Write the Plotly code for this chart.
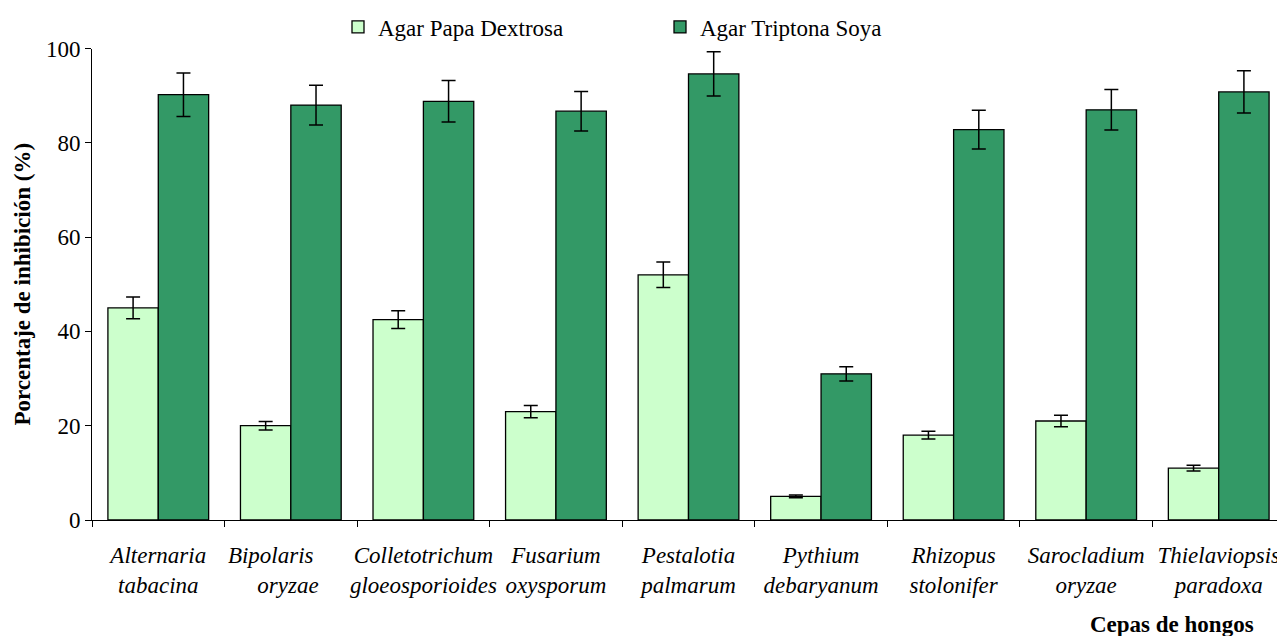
import plotly.graph_objects as go

NB = "\u00a0"
categories = [
    "Alternaria<br>tabacina",
    "Bipolaris" + NB * 7 + "<br>" + NB * 6 + "oryzae" + NB * 7,
    "Colletotrichum<br>gloeosporioides",
    "Fusarium<br>oxysporum",
    "Pestalotia<br>palmarum",
    "Pythium<br>debaryanum",
    "Rhizopus<br>stolonifer",
    "Sarocladium<br>oryzae",
    "Thielaviopsis<br>paradoxa",
]
pda_values = [45.0, 20.0, 42.5, 23.0, 52.0, 5.0, 18.0, 21.0, 11.0]
pda_errors = [2.3, 0.9, 1.9, 1.3, 2.7, 0.3, 0.8, 1.2, 0.6]
tsa_values = [90.2, 88.0, 88.8, 86.7, 94.6, 31.0, 82.8, 87.0, 90.8]
tsa_errors = [4.6, 4.2, 4.4, 4.2, 4.7, 1.5, 4.1, 4.3, 4.5]
y_ticks = [0, 20, 40, 60, 80, 100]

FONT = "Liberation Serif"
FS = 23

# page body has an 8px margin: figure occupies 1277x628 starting at (8, 8)
W, H = 1277, 628

fig = go.Figure()
fig.add_trace(go.Bar(
    name="Agar Papa Dextrosa", x=categories, y=pda_values,
    marker=dict(color="#CCFFCC", line=dict(color="black", width=1.3)),
    error_y=dict(type="data", array=pda_errors, color="black", thickness=1.5, width=7),
))
fig.add_trace(go.Bar(
    name="Agar Triptona Soya", x=categories, y=tsa_values,
    marker=dict(color="#339966", line=dict(color="black", width=1.3)),
    error_y=dict(type="data", array=tsa_errors, color="black", thickness=1.5, width=7),
))

fig.update_layout(
    width=W, height=H,
    margin=dict(l=84, r=0, t=40, b=116),
    paper_bgcolor="white", plot_bgcolor="white",
    barmode="group", bargap=0.24, bargroupgap=0,
    font=dict(family=FONT, size=FS, color="black"),
    showlegend=True,
    legend=dict(orientation="h", xref="container", x=330 / W, xanchor="left",
                yref="container", y=1 - 19 / H, yanchor="middle",
                font=dict(family=FONT, size=FS, color="black"),
                itemwidth=30, entrywidth=277, tracegroupgap=0,
                bgcolor="rgba(0,0,0,0)"),
    xaxis=dict(
        showline=True, linecolor="black", linewidth=1,
        ticks="outside", ticklen=6, tickcolor="black", tickson="boundaries",
        tickangle=0, automargin=False,
        tickfont=dict(family=FONT, size=FS, color="black", style="italic"),
        ticklabelstandoff=14,
        showgrid=False,
    ),
    yaxis=dict(
        range=[0, 100], tickvals=y_ticks, automargin=False,
        showline=True, linecolor="black", linewidth=1,
        ticks="outside", ticklen=6, tickcolor="black",
        tickfont=dict(family=FONT, size=FS, color="black"),
        showgrid=False, zeroline=False,
        title=dict(text="<b>Porcentaje de inhibición (%)</b>",
                   font=dict(family=FONT, size=FS, color="black"), standoff=8),
    ),
    annotations=[dict(
        text="<b>Cepas de hongos</b>", xref="paper", yref="paper",
        x=0.905, y=-0.2225, xanchor="center", yanchor="middle", showarrow=False,
        font=dict(family=FONT, size=FS, color="black"),
    )],
)

fig.write_html("out.html")
